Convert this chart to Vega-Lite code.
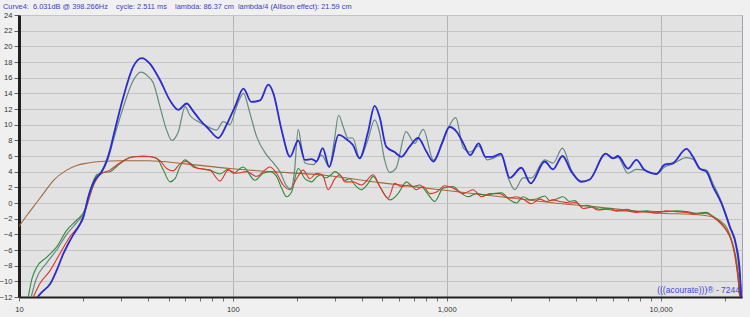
{
  "$schema": "https://vega.github.io/schema/vega-lite/v6.json",
  "width": 723,
  "height": 282,
  "autosize": {"type": "none"},
  "padding": {"left": 19, "top": 15, "right": 8, "bottom": 20},
  "background": "#f0f0f0",
  "title": {"text": "Curve4:\u00a0 6.031dB @ 398.266Hz\u00a0\u00a0\u00a0 cycle: 2.511 ms\u00a0\u00a0\u00a0 lambda: 86.37 cm\u00a0 lambda/4 (Allison effect): 21.59 cm", "anchor": "start", "frame": "group", "dx": -16, "offset": 1, "fontSize": 7.4, "font": "Liberation Sans", "fontWeight": "normal", "color": "#3c3cc8"},
  "config": {
    "view": {"fill": "#e2e2e2", "stroke": "#a0a0b0", "strokeWidth": 1},
    "axis": {"labelFont": "Liberation Sans", "labelFontSize": 7.6, "labelColor": "#333333", "title": null}
  },
  "data": {"values": [
    {"s":"blue","f":12.2,"d":-12},{"s":"blue","f":13.0,"d":-11.2},{"s":"blue","f":14.0,"d":-10.3},{"s":"blue","f":15.0,"d":-8.6},{"s":"blue","f":16.1,"d":-6.5},{"s":"blue","f":17.0,"d":-5.2},{"s":"blue","f":17.9,"d":-4.1},{"s":"blue","f":19.0,"d":-3.0},{"s":"blue","f":20.0,"d":-1.8},{"s":"blue","f":21.1,"d":0.8},{"s":"blue","f":22.6,"d":2.9},{"s":"blue","f":23.9,"d":3.7},{"s":"blue","f":25.2,"d":4.8},{"s":"blue","f":26.6,"d":6.7},{"s":"blue","f":27.6,"d":8.5},{"s":"blue","f":30.8,"d":13.6},{"s":"blue","f":34.2,"d":17.4},{"s":"blue","f":37.5,"d":18.5},{"s":"blue","f":40.9,"d":17.8},{"s":"blue","f":45.6,"d":15.7},{"s":"blue","f":50.8,"d":13.1},{"s":"blue","f":55.6,"d":11.9},{"s":"blue","f":60.8,"d":12.7},{"s":"blue","f":65.3,"d":11.7},{"s":"blue","f":70.2,"d":10.6},{"s":"blue","f":76.8,"d":9.5},{"s":"blue","f":85.5,"d":8.3},{"s":"blue","f":93.5,"d":10.0},{"s":"blue","f":102.3,"d":12.3},{"s":"blue","f":112,"d":14.6},{"s":"blue","f":122,"d":12.9},{"s":"blue","f":134,"d":13.1},{"s":"blue","f":146.5,"d":15.1},{"s":"blue","f":154.6,"d":14.0},{"s":"blue","f":169,"d":9.3},{"s":"blue","f":185,"d":5.9},{"s":"blue","f":202,"d":8.0},{"s":"blue","f":217,"d":5.5},{"s":"blue","f":233,"d":5.6},{"s":"blue","f":246,"d":5.3},{"s":"blue","f":263,"d":7.0},{"s":"blue","f":282,"d":4.6},{"s":"blue","f":312,"d":8.7},{"s":"blue","f":345,"d":8.0},{"s":"blue","f":364,"d":7.4},{"s":"blue","f":391,"d":5.7},{"s":"blue","f":427,"d":8.9},{"s":"blue","f":460,"d":12.4},{"s":"blue","f":485,"d":11.0},{"s":"blue","f":521,"d":7.2},{"s":"blue","f":570,"d":6.5},{"s":"blue","f":613,"d":5.9},{"s":"blue","f":670,"d":7.2},{"s":"blue","f":735,"d":8.3},{"s":"blue","f":805,"d":6.5},{"s":"blue","f":866,"d":5.3},{"s":"blue","f":950,"d":7.6},{"s":"blue","f":1028,"d":9.7},{"s":"blue","f":1112,"d":9.1},{"s":"blue","f":1196,"d":7.6},{"s":"blue","f":1287,"d":6.1},{"s":"blue","f":1409,"d":7.6},{"s":"blue","f":1517,"d":5.9},{"s":"blue","f":1633,"d":5.9},{"s":"blue","f":1790,"d":6.3},{"s":"blue","f":1970,"d":3.2},{"s":"blue","f":2230,"d":4.5},{"s":"blue","f":2470,"d":2.5},{"s":"blue","f":2871,"d":5.3},{"s":"blue","f":3139,"d":4.3},{"s":"blue","f":3474,"d":6.0},{"s":"blue","f":3825,"d":4.0},{"s":"blue","f":4261,"d":2.7},{"s":"blue","f":4658,"d":3.0},{"s":"blue","f":5534,"d":6.3},{"s":"blue","f":5985,"d":5.7},{"s":"blue","f":6318,"d":6.0},{"s":"blue","f":7034,"d":4.4},{"s":"blue","f":7700,"d":5.5},{"s":"blue","f":8418,"d":4.2},{"s":"blue","f":9548,"d":3.7},{"s":"blue","f":10440,"d":4.9},{"s":"blue","f":11420,"d":5.1},{"s":"blue","f":13190,"d":6.9},{"s":"blue","f":14160,"d":5.9},{"s":"blue","f":15220,"d":4.4},{"s":"blue","f":16360,"d":4.0},{"s":"blue","f":17560,"d":2.1},{"s":"blue","f":19210,"d":0.0},{"s":"blue","f":21010,"d":-3.0},{"s":"blue","f":22580,"d":-5.5},{"s":"blue","f":23400,"d":-8.5},{"s":"blue","f":23800,"d":-12},

    {"s":"teal","f":11.4,"d":-12},{"s":"teal","f":12.0,"d":-9.8},{"s":"teal","f":13.5,"d":-7.6},{"s":"teal","f":15.0,"d":-6.0},{"s":"teal","f":16.7,"d":-4.0},{"s":"teal","f":18.6,"d":-2.5},{"s":"teal","f":20.3,"d":-1.0},{"s":"teal","f":21.5,"d":1.2},{"s":"teal","f":23.0,"d":3.3},{"s":"teal","f":24.5,"d":4.0},{"s":"teal","f":26.0,"d":5.5},{"s":"teal","f":27.6,"d":8.0},{"s":"teal","f":30.8,"d":12.3},{"s":"teal","f":34.0,"d":15.5},{"s":"teal","f":37.2,"d":16.7},{"s":"teal","f":40.0,"d":16.2},{"s":"teal","f":42.5,"d":15.3},{"s":"teal","f":45.6,"d":12.3},{"s":"teal","f":49,"d":9.3},{"s":"teal","f":51.8,"d":8.0},{"s":"teal","f":55.6,"d":9.1},{"s":"teal","f":59.8,"d":12.3},{"s":"teal","f":62.9,"d":11.2},{"s":"teal","f":68.8,"d":10.4},{"s":"teal","f":76.8,"d":9.7},{"s":"teal","f":84,"d":9.3},{"s":"teal","f":90,"d":10.4},{"s":"teal","f":96.7,"d":10.0},{"s":"teal","f":104,"d":12.3},{"s":"teal","f":112,"d":14.0},{"s":"teal","f":120,"d":11.5},{"s":"teal","f":129,"d":8.5},{"s":"teal","f":144,"d":6.1},{"s":"teal","f":155,"d":5.1},{"s":"teal","f":166,"d":4.0},{"s":"teal","f":178,"d":2.2},{"s":"teal","f":187,"d":1.8},{"s":"teal","f":194,"d":4.0},{"s":"teal","f":202,"d":9.4},{"s":"teal","f":210,"d":7.0},{"s":"teal","f":217,"d":5.1},{"s":"teal","f":238,"d":4.9},{"s":"teal","f":260,"d":6.1},{"s":"teal","f":282,"d":4.6},{"s":"teal","f":298,"d":8.0},{"s":"teal","f":312,"d":11.2},{"s":"teal","f":330,"d":9.5},{"s":"teal","f":345,"d":8.3},{"s":"teal","f":364,"d":8.3},{"s":"teal","f":391,"d":5.7},{"s":"teal","f":427,"d":8.0},{"s":"teal","f":460,"d":10.6},{"s":"teal","f":485,"d":9.0},{"s":"teal","f":512,"d":5.5},{"s":"teal","f":540,"d":3.9},{"s":"teal","f":578,"d":4.4},{"s":"teal","f":645,"d":9.1},{"s":"teal","f":707,"d":7.6},{"s":"teal","f":776,"d":9.4},{"s":"teal","f":866,"d":5.5},{"s":"teal","f":975,"d":8.5},{"s":"teal","f":1100,"d":10.9},{"s":"teal","f":1196,"d":7.0},{"s":"teal","f":1287,"d":6.5},{"s":"teal","f":1409,"d":7.3},{"s":"teal","f":1546,"d":5.5},{"s":"teal","f":1640,"d":5.7},{"s":"teal","f":1790,"d":6.1},{"s":"teal","f":1950,"d":3.0},{"s":"teal","f":2079,"d":1.7},{"s":"teal","f":2273,"d":3.2},{"s":"teal","f":2488,"d":3.2},{"s":"teal","f":2871,"d":5.5},{"s":"teal","f":3139,"d":5.1},{"s":"teal","f":3474,"d":7.0},{"s":"teal","f":3825,"d":4.2},{"s":"teal","f":4261,"d":2.8},{"s":"teal","f":4658,"d":3.0},{"s":"teal","f":5534,"d":6.3},{"s":"teal","f":5985,"d":5.7},{"s":"teal","f":6318,"d":5.8},{"s":"teal","f":7034,"d":3.8},{"s":"teal","f":7700,"d":4.3},{"s":"teal","f":8418,"d":4.2},{"s":"teal","f":9548,"d":3.7},{"s":"teal","f":10440,"d":4.6},{"s":"teal","f":11420,"d":5.0},{"s":"teal","f":13190,"d":5.8},{"s":"teal","f":14160,"d":5.6},{"s":"teal","f":15220,"d":4.4},{"s":"teal","f":16360,"d":4.2},{"s":"teal","f":17560,"d":2.5},{"s":"teal","f":19210,"d":0.2},{"s":"teal","f":21010,"d":-2.8},{"s":"teal","f":22580,"d":-5.8},{"s":"teal","f":23400,"d":-9.0},{"s":"teal","f":23900,"d":-12},

    {"s":"red","f":11.67,"d":-12},{"s":"red","f":12.5,"d":-10.3},{"s":"red","f":14.0,"d":-8.6},{"s":"red","f":15.5,"d":-6.5},{"s":"red","f":17.3,"d":-4.3},{"s":"red","f":19.3,"d":-2.6},{"s":"red","f":20.7,"d":-0.5},{"s":"red","f":22.2,"d":2.1},{"s":"red","f":23.9,"d":3.6},{"s":"red","f":26.6,"d":4.2},{"s":"red","f":29.6,"d":5.1},{"s":"red","f":34.3,"d":5.9},{"s":"red","f":41.0,"d":5.9},{"s":"red","f":45.6,"d":5.4},{"s":"red","f":49.0,"d":4.4},{"s":"red","f":52.6,"d":4.1},{"s":"red","f":56.5,"d":5.0},{"s":"red","f":60.7,"d":5.3},{"s":"red","f":65.3,"d":4.6},{"s":"red","f":70.1,"d":4.4},{"s":"red","f":78.1,"d":4.2},{"s":"red","f":87.0,"d":2.8},{"s":"red","f":95.1,"d":4.2},{"s":"red","f":104,"d":3.8},{"s":"red","f":115.8,"d":4.0},{"s":"red","f":129,"d":3.4},{"s":"red","f":148.9,"d":4.6},{"s":"red","f":160,"d":3.8},{"s":"red","f":171.9,"d":2.3},{"s":"red","f":184.7,"d":1.7},{"s":"red","f":198.4,"d":3.1},{"s":"red","f":213.2,"d":4.2},{"s":"red","f":229,"d":3.1},{"s":"red","f":246,"d":3.8},{"s":"red","f":262,"d":3.6},{"s":"red","f":279,"d":1.7},{"s":"red","f":300,"d":3.1},{"s":"red","f":316,"d":3.6},{"s":"red","f":334,"d":2.7},{"s":"red","f":365,"d":2.7},{"s":"red","f":399,"d":2.3},{"s":"red","f":453,"d":3.6},{"s":"red","f":486,"d":2.1},{"s":"red","f":532,"d":0.6},{"s":"red","f":571,"d":2.5},{"s":"red","f":614,"d":2.1},{"s":"red","f":672,"d":2.3},{"s":"red","f":722,"d":1.7},{"s":"red","f":775,"d":2.1},{"s":"red","f":833,"d":1.2},{"s":"red","f":895,"d":1.4},{"s":"red","f":979,"d":2.2},{"s":"red","f":1070,"d":1.9},{"s":"red","f":1192,"d":1.2},{"s":"red","f":1327,"d":1.7},{"s":"red","f":1452,"d":0.8},{"s":"red","f":1588,"d":1.2},{"s":"red","f":1768,"d":1.2},{"s":"red","f":1934,"d":0.6},{"s":"red","f":2116,"d":0.8},{"s":"red","f":2273,"d":0.5},{"s":"red","f":2487,"d":-0.1},{"s":"red","f":2720,"d":0.5},{"s":"red","f":2923,"d":0.2},{"s":"red","f":3140,"d":0.4},{"s":"red","f":3373,"d":0.2},{"s":"red","f":3755,"d":0.0},{"s":"red","f":4036,"d":0.05},{"s":"red","f":4336,"d":-0.7},{"s":"red","f":4743,"d":-0.55},{"s":"red","f":5096,"d":-0.9},{"s":"red","f":5574,"d":-0.8},{"s":"red","f":6206,"d":-1.0},{"s":"red","f":6911,"d":-1.0},{"s":"red","f":7697,"d":-1.2},{"s":"red","f":8570,"d":-1.1},{"s":"red","f":9545,"d":-1.3},{"s":"red","f":10630,"d":-1.0},{"s":"red","f":11836,"d":-1.1},{"s":"red","f":13180,"d":-1.2},{"s":"red","f":14680,"d":-1.4},{"s":"red","f":16350,"d":-1.3},{"s":"red","f":17570,"d":-1.8},{"s":"red","f":18870,"d":-2.5},{"s":"red","f":20270,"d":-3.5},{"s":"red","f":21390,"d":-4.8},{"s":"red","f":22170,"d":-6.6},{"s":"red","f":22990,"d":-9.6},{"s":"red","f":23450,"d":-12},

    {"s":"green","f":11.05,"d":-12},{"s":"green","f":11.5,"d":-9.65},{"s":"green","f":12.1,"d":-8.2},{"s":"green","f":13.5,"d":-6.9},{"s":"green","f":15.0,"d":-5.6},{"s":"green","f":16.7,"d":-3.5},{"s":"green","f":18.6,"d":-2.2},{"s":"green","f":20.3,"d":-0.9},{"s":"green","f":21.5,"d":1.6},{"s":"green","f":23.1,"d":3.6},{"s":"green","f":24.8,"d":3.9},{"s":"green","f":26.6,"d":4.0},{"s":"green","f":29.6,"d":5.0},{"s":"green","f":33.0,"d":5.8},{"s":"green","f":38.1,"d":6.0},{"s":"green","f":44.0,"d":5.7},{"s":"green","f":47.3,"d":4.2},{"s":"green","f":50.8,"d":2.7},{"s":"green","f":53.6,"d":3.1},{"s":"green","f":56.5,"d":4.6},{"s":"green","f":59.7,"d":5.5},{"s":"green","f":63.0,"d":5.1},{"s":"green","f":67.6,"d":4.5},{"s":"green","f":72.7,"d":4.3},{"s":"green","f":78.1,"d":4.2},{"s":"green","f":87,"d":3.7},{"s":"green","f":95,"d":4.3},{"s":"green","f":100.4,"d":3.8},{"s":"green","f":111.7,"d":4.6},{"s":"green","f":126.7,"d":2.9},{"s":"green","f":138.6,"d":3.8},{"s":"green","f":148.9,"d":4.0},{"s":"green","f":160,"d":3.4},{"s":"green","f":168.9,"d":1.9},{"s":"green","f":178.2,"d":0.8},{"s":"green","f":188,"d":1.4},{"s":"green","f":202,"d":4.4},{"s":"green","f":217,"d":3.1},{"s":"green","f":233,"d":2.7},{"s":"green","f":246,"d":3.3},{"s":"green","f":258,"d":3.6},{"s":"green","f":270,"d":3.2},{"s":"green","f":285,"d":3.5},{"s":"green","f":300,"d":4.0},{"s":"green","f":316,"d":3.6},{"s":"green","f":334,"d":2.9},{"s":"green","f":352,"d":3.1},{"s":"green","f":372,"d":2.3},{"s":"green","f":399,"d":1.7},{"s":"green","f":429,"d":2.5},{"s":"green","f":453,"d":3.4},{"s":"green","f":486,"d":2.1},{"s":"green","f":542,"d":0.4},{"s":"green","f":592,"d":1.2},{"s":"green","f":648,"d":2.7},{"s":"green","f":696,"d":2.1},{"s":"green","f":748,"d":2.3},{"s":"green","f":803,"d":1.4},{"s":"green","f":879,"d":0.2},{"s":"green","f":961,"d":1.9},{"s":"green","f":1070,"d":2.1},{"s":"green","f":1150,"d":1.4},{"s":"green","f":1258,"d":0.8},{"s":"green","f":1376,"d":1.2},{"s":"green","f":1532,"d":1.0},{"s":"green","f":1647,"d":1.2},{"s":"green","f":1800,"d":1.3},{"s":"green","f":1970,"d":0.4},{"s":"green","f":2116,"d":0.0},{"s":"green","f":2273,"d":0.8},{"s":"green","f":2443,"d":0.4},{"s":"green","f":2624,"d":0.5},{"s":"green","f":2871,"d":0.9},{"s":"green","f":3029,"d":0.3},{"s":"green","f":3254,"d":0.5},{"s":"green","f":3496,"d":0.8},{"s":"green","f":3755,"d":0.2},{"s":"green","f":3965,"d":0.3},{"s":"green","f":4259,"d":-0.4},{"s":"green","f":4494,"d":-0.3},{"s":"green","f":4830,"d":-0.5},{"s":"green","f":5188,"d":-0.8},{"s":"green","f":5777,"d":-0.7},{"s":"green","f":6206,"d":-1.0},{"s":"green","f":6911,"d":-0.8},{"s":"green","f":7697,"d":-1.1},{"s":"green","f":8570,"d":-1.0},{"s":"green","f":9545,"d":-1.1},{"s":"green","f":10630,"d":-1.1},{"s":"green","f":11836,"d":-1.0},{"s":"green","f":13180,"d":-1.1},{"s":"green","f":14680,"d":-1.3},{"s":"green","f":16350,"d":-1.2},{"s":"green","f":17570,"d":-1.7},{"s":"green","f":18870,"d":-2.4},{"s":"green","f":20270,"d":-3.4},{"s":"green","f":21390,"d":-4.7},{"s":"green","f":22170,"d":-6.4},{"s":"green","f":22990,"d":-9.4},{"s":"green","f":23400,"d":-12},

    {"s":"brown","f":10,"d":-3.0},{"s":"brown","f":11,"d":-1.4},{"s":"brown","f":11.67,"d":-0.5},{"s":"brown","f":13,"d":1.2},{"s":"brown","f":14.5,"d":2.9},{"s":"brown","f":16.7,"d":4.2},{"s":"brown","f":18.6,"d":4.8},{"s":"brown","f":21,"d":5.1},{"s":"brown","f":24,"d":5.3},{"s":"brown","f":30,"d":5.4},{"s":"brown","f":40,"d":5.4},{"s":"brown","f":60,"d":5.0},{"s":"brown","f":97,"d":4.4},{"s":"brown","f":150,"d":4.0},{"s":"brown","f":255,"d":3.6},{"s":"brown","f":487,"d":2.6},{"s":"brown","f":932,"d":1.7},{"s":"brown","f":1784,"d":0.8},{"s":"brown","f":2751,"d":0.2},{"s":"brown","f":5000,"d":-0.5},{"s":"brown","f":10000,"d":-1.3},{"s":"brown","f":15000,"d":-1.5},{"s":"brown","f":17500,"d":-1.8},{"s":"brown","f":19000,"d":-2.3},{"s":"brown","f":20500,"d":-3.3},{"s":"brown","f":21500,"d":-4.8},{"s":"brown","f":22500,"d":-7.0},{"s":"brown","f":23200,"d":-9.5},{"s":"brown","f":23600,"d":-12}
  ]},
  "encoding": {
    "x": {"field": "f", "type": "quantitative",
      "scale": {"type": "log", "domain": [10, 24000], "nice": false},
      "axis": {
        "values": [10,20,30,40,50,60,70,80,90,100,200,300,400,500,600,700,800,900,1000,2000,3000,4000,5000,6000,7000,8000,9000,10000,20000],
        "labelExpr": "indexof([10,100,1000,10000], datum.value) >= 0 ? format(datum.value, ',') : ''",
        "labelFlush": false, "labelOverlap": false, "labelPadding": 4,
        "domainColor": "#202020", "domainWidth": 2,
        "tickColor": "#707070", "tickSize": 4,
        "grid": true, "gridColor": "#b4b4b4",
        "gridOpacity": {"condition": {"test": "indexof([100,1000,10000], datum.value) >= 0", "value": 1}, "value": 0}
      }},
    "y": {"field": "d", "type": "quantitative",
      "scale": {"domain": [-12, 24], "nice": false},
      "axis": {
        "values": [-12,-10,-8,-6,-4,-2,0,2,4,6,8,10,12,14,16,18,20,22,24],
        "labelPadding": 2, "tickSize": 5, "tickColor": "#606060",
        "domainColor": "#202020", "domainWidth": 3,
        "grid": true, "gridColor": "#c4c4c4"
      }}
  },
  "layer": [
    {"transform": [{"filter": "datum.s == 'brown'"}], "mark": {"type": "line", "clip": true, "interpolate": "monotone", "color": "#a06a3c", "strokeWidth": 1.1}},
    {"transform": [{"filter": "datum.s == 'green'"}], "mark": {"type": "line", "clip": true, "interpolate": "monotone", "color": "#2f8a3a", "strokeWidth": 1.1}},
    {"transform": [{"filter": "datum.s == 'red'"}], "mark": {"type": "line", "clip": true, "interpolate": "monotone", "color": "#e3302a", "strokeWidth": 1.1}},
    {"transform": [{"filter": "datum.s == 'teal'"}], "mark": {"type": "line", "clip": true, "interpolate": "monotone", "color": "#628a80", "strokeWidth": 1.2}},
    {"transform": [{"filter": "datum.s == 'blue'"}], "mark": {"type": "line", "clip": true, "interpolate": "monotone", "color": "#2a2ad0", "strokeWidth": 1.8}},
    {"data": {"values": [{"label": "(((acourate)))® - 7244", "f": 24000, "d": -12}]},
     "mark": {"type": "text", "align": "right", "baseline": "bottom", "dx": -2, "dy": -2, "fontSize": 8.5, "font": "Liberation Sans", "color": "#4646dc"},
     "encoding": {"text": {"field": "label"}}}
  ]
}
